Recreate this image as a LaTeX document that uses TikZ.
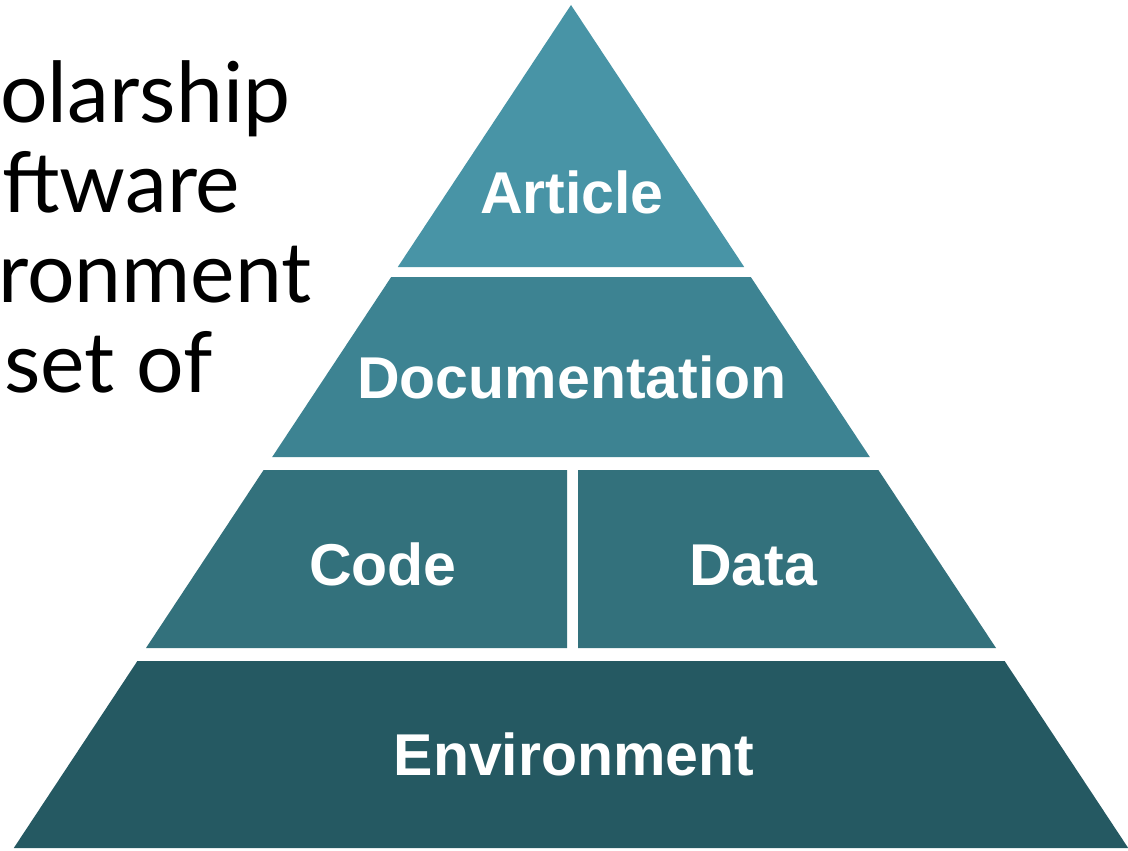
\documentclass[tikz,border=0pt]{standalone}
\usepackage{fontspec}
\setmainfont{Liberation Sans}
\newfontfamily\sidefont{Lato}
\definecolor{articlecol}{RGB}{72,148,166}
\definecolor{doccol}{RGB}{61,131,146}
\definecolor{codecol}{RGB}{51,113,124}
\definecolor{envcol}{RGB}{37,89,98}
\tikzset{
    layer label/.style={text=white, font=\fontsize{59}{59}\selectfont\bfseries, inner sep=0pt, anchor=base},
    side text/.style={font=\sidefont\fontsize{84}{84}\selectfont, inner sep=0pt, anchor=base west}
}
\begin{document}
\begin{tikzpicture}[x=1pt, y=-1pt]
        \useasboundingbox[fill=white] (0,0) rectangle (1128,851);
        % corners of the layers
        \coordinate (top) at (571,5);
        \coordinate (al) at (397.8,267);
        \coordinate (ar) at (744.2,267);
        \coordinate (dtl) at (391.2,277);
        \coordinate (dtr) at (750.8,277);
        \coordinate (dbl) at (272.2,457);
        \coordinate (dbr) at (869.8,457);
        \coordinate (ctl) at (263.6,470);
        \coordinate (ctr) at (567,470);
        \coordinate (cbl) at (146,648);
        \coordinate (cbr) at (567,648);
        \coordinate (dtl2) at (578,470);
        \coordinate (dtr2) at (878.4,470);
        \coordinate (dbl2) at (578,648);
        \coordinate (dbr2) at (996,648);
        \coordinate (etl) at (137.4,661);
        \coordinate (etr) at (1004.6,661);
        \coordinate (ebl) at (13.8,848);
        \coordinate (ebr) at (1128.2,848);
        \fill[articlecol] (top) -- (ar) -- (al) -- cycle;
        \fill[doccol] (dtl) -- (dtr) -- (dbr) -- (dbl) -- cycle;
        \fill[codecol] (ctl) -- (ctr) -- (cbr) -- (cbl) -- cycle;
        \fill[codecol] (dtl2) -- (dtr2) -- (dbr2) -- (dbl2) -- cycle;
        \fill[envcol] (etl) -- (etr) -- (ebr) -- (ebl) -- cycle;
        % labels
        \node[layer label] (article) at (572,213) {Article};
        \node[layer label] (documentation) at (572,398) {Documentation};
        \node[layer label] (code) at (383,585) {Code};
        \node[layer label] (data) at (753,585) {Data};
        \node[layer label] (environment) at (574,775) {Environment};
        % text cut off at the left
        \node[side text] (line1) at (0,122) {olarship};
        \node[side text] (line2) at (2,212) {ftware};
        \node[side text] (line3) at (-2,302) {ronment};
        \node[side text] (line4) at (4,392) {set of};
\end{tikzpicture}
\end{document}
